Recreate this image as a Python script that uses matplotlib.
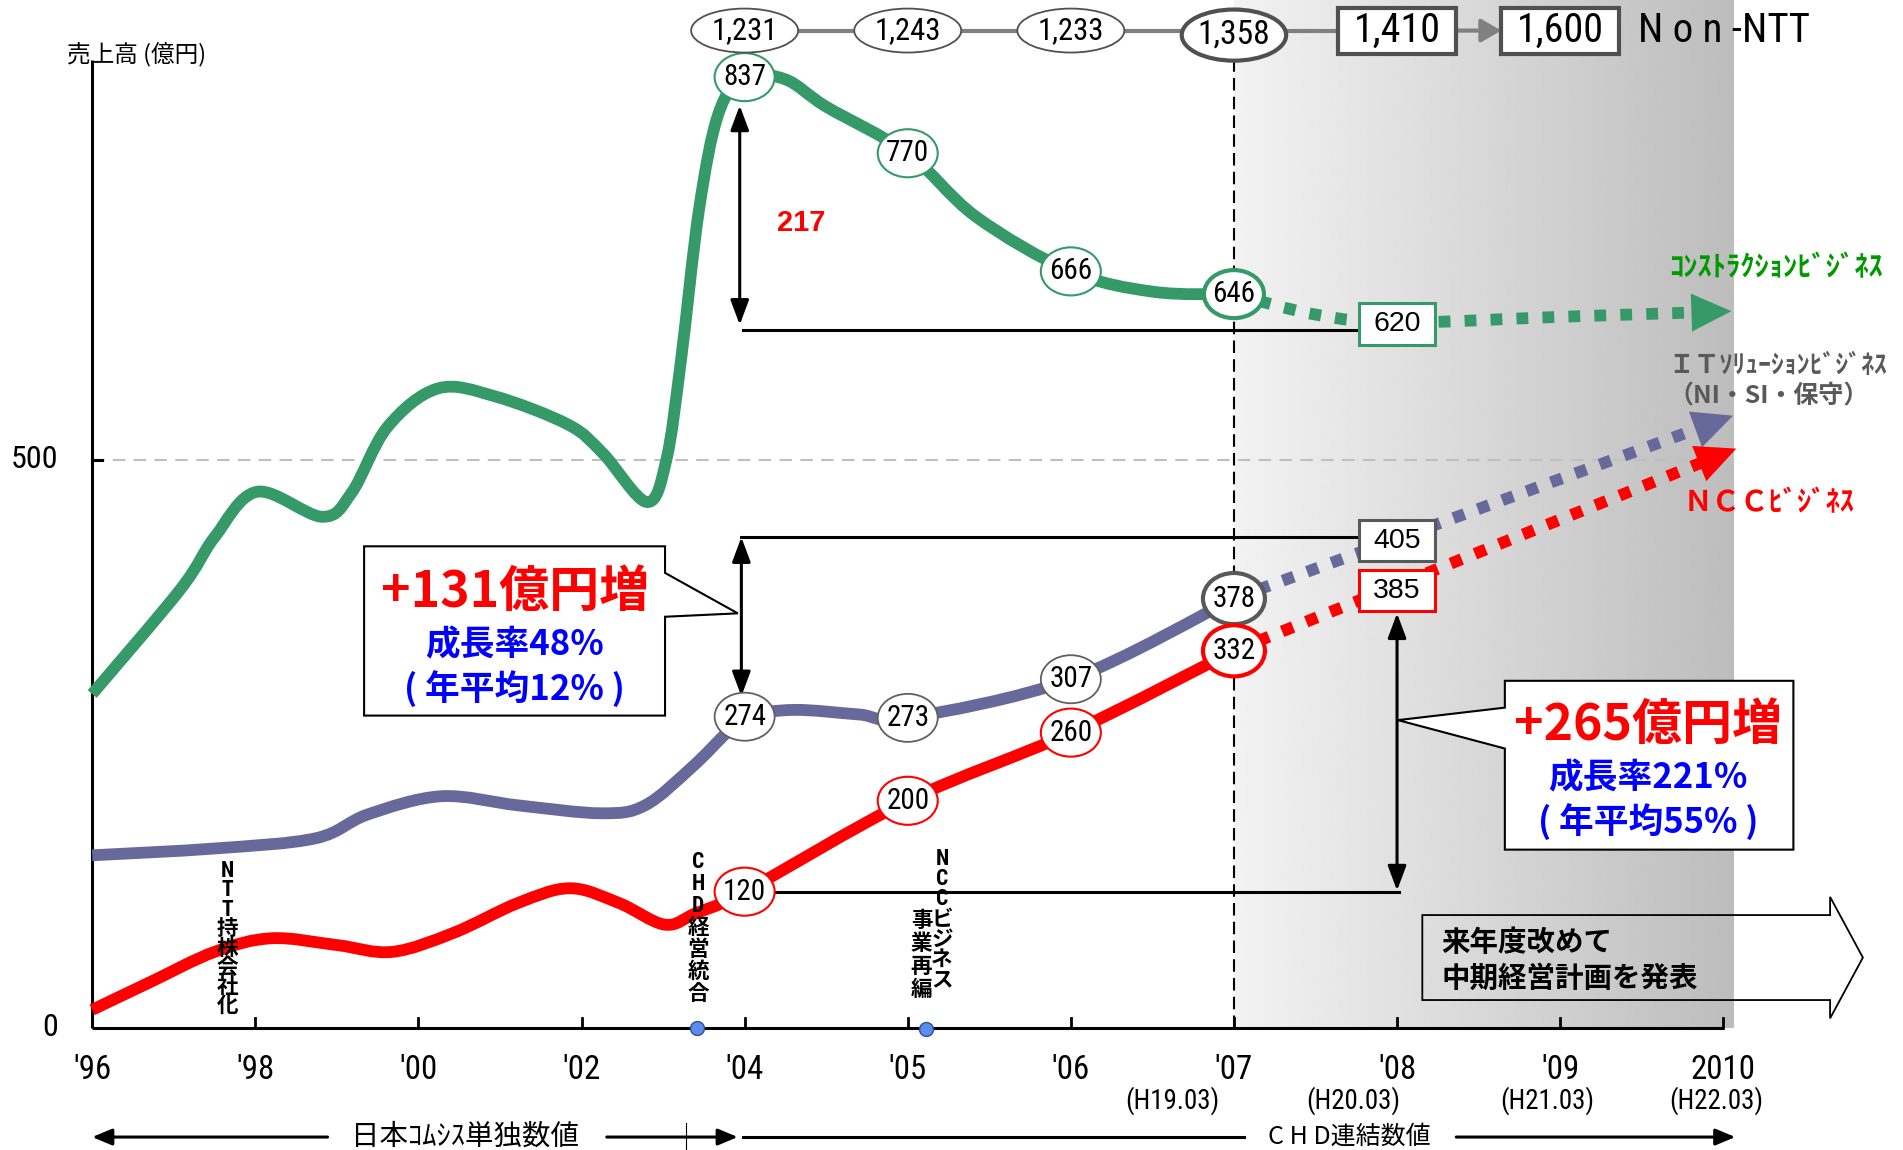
import numpy as np
import matplotlib
matplotlib.use('Agg')
import matplotlib.pyplot as plt
from matplotlib.path import Path
from matplotlib.patches import PathPatch, Ellipse, Rectangle, Polygon
from matplotlib import font_manager

JP = 'Noto Sans CJK JP'
_names = {f.name for f in font_manager.fontManager.ttflist}
NUM, K = 'Liberation Sans', 0.92
for cand in ['Liberation Sans Narrow', 'Roboto Condensed', 'Open Sans Condensed', 'DejaVu Sans Condensed']:
    if cand in _names:
        NUM, K = cand, 1.05
        break

# ---- data (x = position on the year axis, 0 = '96 ... 10 = 2010) ----
year_labels = ["'96", "'98", "'00", "'02", "'04", "'05", "'06", "'07", "'08", "'09", "2010"]
fiscal_labels = ['(H19.03)', '(H20.03)', '(H21.03)', '(H22.03)']
fiscal_pos = [6.62, 7.73, 8.92, 9.96]

# construction business (green)
cons_x = [0, 0.54, 0.75, 1.01, 1.41, 1.59, 1.81, 2.12, 2.47, 2.92, 3.13, 3.40, 3.52, 3.61, 3.72, 3.84,
          4, 4.25, 4.5, 5, 5.42, 6, 6.51, 7]
cons_y = [294, 386, 432, 472, 450, 471, 529, 563, 556, 531, 506, 463, 500, 588, 720, 805,
          837, 835, 811, 770, 714, 666, 648, 646]
# IT solution business (purple)
it_x = [0, 0.75, 1.37, 1.69, 2.14, 2.61, 3.12, 3.39, 3.68, 3.89, 4, 4.3, 4.7, 5, 6, 7]
it_y = [152, 158, 167, 188, 204, 196, 189, 196, 230, 260, 274, 280, 276, 273, 307, 378]
# NCC business (red)
ncc_x = [0, 0.35, 0.75, 1.10, 1.50, 1.84, 2.22, 2.61, 2.93, 3.23, 3.51, 3.70, 4, 5, 6, 7]
ncc_y = [16, 40, 67, 79, 73, 67, 84, 110, 123, 110, 91, 101, 120, 200, 260, 332]

lab_pos = [4, 5, 6, 7]
cons_lab = [837, 770, 666, 646]
it_lab = [274, 273, 307, 378]
ncc_lab = [120, 200, 260, 332]

# projections
cons_proj_x = [7, 7.5, 8, 9, 10.05]
cons_proj_y = [646, 628, 621, 626, 631]
it_proj_x = [7, 10.06]
it_proj_y = [378, 539]
ncc_proj_x = [7, 10.08]
ncc_proj_y = [332, 510]
plan08 = {'cons': 620, 'it': 405, 'ncc': 385}

# total sales row
total_pos = [4, 5, 6, 7]
total_val = [1231, 1243, 1233, 1358]
plan_pos = [8, 9]
plan_val = [1410, 1600]

GREEN = '#359A68'
PURPLE = '#66699A'
RED = '#FF0000'
GRAY = '#595959'

fig = plt.figure(figsize=(19.03, 11.5), dpi=100)
ax = fig.add_axes([0, 0, 1, 1])
ax.set_xlim(-0.5653, 11.102)
ax.set_ylim(-107.4, 904.9)
ax.axis('off')
PXI = 163.1   # pixels per x unit
PXV = 1.136   # pixels per value unit


def smooth_path(xs, ys):
    P = np.column_stack([xs, ys]).astype(float)
    n = len(P)
    verts = [P[0]]
    codes = [Path.MOVETO]
    for k in range(n - 1):
        p0 = P[max(k - 1, 0)]
        p1 = P[k]
        p2 = P[k + 1]
        p3 = P[min(k + 2, n - 1)]
        verts += [p1 + (p2 - p0) / 6, p2 - (p3 - p1) / 6, p2]
        codes += [Path.CURVE4] * 3
    return Path(verts, codes)


def head(tip, prev, color, length=40, half=19):
    t = ax.transData.transform(tip)
    b = ax.transData.transform(prev)
    d = (t - b) / np.hypot(*(t - b))
    n = np.array([-d[1], d[0]])
    base = t - d * length
    ax.add_patch(Polygon([t, base + n * half, base - n * half], closed=True,
                         transform=None, fc=color, ec='none', zorder=4))
    return ax.transData.inverted().transform(base + d * 2)


def circ(x, y, s, ec, lw=1.5, w=0.368, h=42.3, fs=20):
    ax.add_patch(Ellipse((x, y), w, h, fc='white', ec=ec, lw=lw, zorder=6))
    ax.text(x, y, s, ha='center', va='center', fontsize=fs * K, family=NUM, zorder=7)


def box(x, y, s, ec, w=0.47, h=37, fs=20, lw=2.2, family='Liberation Sans'):
    ax.add_patch(Rectangle((x - w / 2, y - h / 2), w, h, fc='white', ec=ec, lw=lw, zorder=6))
    ax.text(x, y, s, ha='center', va='center', fontsize=fs, family=family, zorder=7)


def vtext(x, top, s, pitch, fs=15.5):
    for k, ch in enumerate(s):
        if ch.isascii():
            ax.text(x, top - k * pitch, ch, ha='center', va='center', fontsize=fs,
                    family=NUM, weight='bold', zorder=5)
        else:
            ax.text(x, top - k * pitch, ch, ha='center', va='center', fontsize=fs,
                    family=JP, weight='bold', zorder=5)


# shaded forecast area
grad = np.linspace(0.95, 0.74, 256)[None, :]
ax.imshow(grad, cmap='gray', vmin=0, vmax=1, extent=(7, 10.06, 0, 904.9),
          aspect='auto', zorder=0, interpolation='bilinear')

# grid line at 500
ax.plot([0, 10.06], [500, 500], color='#BFBFBF', lw=1.5, ls=(0, (6, 4)), zorder=1)
# vertical dashed line at '07
ax.plot([7, 7], [0, 852], color='black', lw=1.5, ls=(0, (6, 3)), zorder=2)

# axes
ax.plot([0, 0], [0, 852], color='black', lw=2.2, zorder=3, solid_capstyle='butt')
ax.plot([0, 10], [0, 0], color='black', lw=2.2, zorder=3, solid_capstyle='butt')
for i in range(1, 11):
    ax.plot([i, i], [0, 10 / PXV], color='black', lw=2, zorder=3)
ax.plot([0, 10 / PXI], [500, 500], color='black', lw=2.2, zorder=3)
ax.text(-0.208, 500, '500', ha='right', va='center', fontsize=22 * K, family=NUM)
ax.text(-0.208, 0, '0', ha='right', va='center', fontsize=22 * K, family=NUM)
ax.text(-0.156, 856, '売上高 (億円)', ha='left', va='center', fontsize=17, family=JP)

for i, lab in enumerate(year_labels):
    ax.text(i, -37, lab, ha='center', va='center', fontsize=22.5 * K, family=NUM)
for p, lab in zip(fiscal_pos, fiscal_labels):
    ax.text(p, -64, lab, ha='center', va='center', fontsize=18.5 * K, family=NUM)

# main curves
for xs, ys, c in [(cons_x, cons_y, GREEN), (it_x, it_y, PURPLE), (ncc_x, ncc_y, RED)]:
    ax.add_patch(PathPatch(smooth_path(xs, ys), fill=False, ec=c, lw=8.5, zorder=3,
                           capstyle='butt', joinstyle='round'))

# dotted projections with heads
for xs, ys, c in [(cons_proj_x, cons_proj_y, GREEN), (it_proj_x, it_proj_y, PURPLE),
                  (ncc_proj_x, ncc_proj_y, RED)]:
    tip = (xs[-1], ys[-1])
    prev = (xs[-2], ys[-2]) if len(xs) == 2 else (xs[-1] - 0.3, ys[-1] - 1.5)
    base = head(tip, prev, c)
    px = list(xs[:-1]) + [base[0]]
    py = list(ys[:-1]) + [base[1]]
    if len(xs) > 2:
        ax.add_patch(PathPatch(smooth_path(px, py), fill=False, ec=c, lw=8.5, zorder=3,
                               capstyle='butt', ls=(0, (1, 1.2))))
    else:
        ax.plot(px, py, color=c, lw=8.5, ls=(0, (1, 1.2)), dash_capstyle='butt', zorder=3)

# measurement arrows and lines
aprops = dict(arrowstyle='<|-|>,head_length=0.75,head_width=0.28', mutation_scale=20,
              color='black', lw=2.2, shrinkA=0, shrinkB=0)
ax.annotate('', xy=(3.97, 812), xytext=(3.97, 619), arrowprops=aprops, zorder=4)
ax.plot([3.99, 7.76], [614, 614], color='black', lw=2.2, zorder=2)
ax.text(4.345, 709, '217', ha='center', va='center', fontsize=21, color=RED,
        weight='bold', family='Liberation Sans')
ax.annotate('', xy=(3.98, 432), xytext=(3.98, 292), arrowprops=aprops, zorder=4)
ax.plot([3.98, 7.77], [432, 432], color='black', lw=2.2, zorder=2)
ax.annotate('', xy=(8, 365), xytext=(8, 121), arrowprops=aprops, zorder=4)
ax.plot([4.18, 8.01], [120, 120], color='black', lw=2.2, zorder=2)

# labelled points
for p, v in zip(lab_pos, cons_lab):
    circ(p, v, str(v), GREEN, lw=3 if p == 7 else 1.5)
for p, v in zip(lab_pos, it_lab):
    circ(p, v, str(v), GRAY if p == 7 else '#606060', lw=3 if p == 7 else 1.3,
         w=0.38 if p == 7 else 0.368, h=45 if p == 7 else 42.3)
for p, v in zip(lab_pos, ncc_lab):
    circ(p, v, str(v), RED, lw=3 if p == 7 else 1.5,
         w=0.38 if p == 7 else 0.368, h=45 if p == 7 else 42.3)

box(8, plan08['cons'], str(plan08['cons']), GREEN, h=37, fs=20.5)
box(8, plan08['it'] + 24, str(plan08['it']), GRAY, h=36, fs=20.5)
box(8, plan08['ncc'], str(plan08['ncc']), RED, h=36, fs=20.5)

# total sales row
ROW = 878
ax.plot([4, 8], [ROW, ROW], color='#808080', lw=3, zorder=3)
for p, v in zip(total_pos, total_val):
    big = p == 7
    ax.add_patch(Ellipse((p, ROW - (4 if big else 0)), 0.64 if big else 0.656, 45 if big else 38.7,
                         fc='white', ec='#505050', lw=3 if big else 1.3, zorder=6))
    ax.text(p, ROW - (4 if big else 0), f'{v:,}', ha='center', va='center',
            fontsize=(23 if big else 21) * K, family=NUM, zorder=7)
for p, v in zip(plan_pos, plan_val):
    box(p, ROW, f'{v:,}', '#505050', w=0.723, h=40.5, fs=27.5 * K, lw=3, family=NUM)
ax.annotate('', xy=(9 - 0.3615, ROW), xytext=(8 + 0.3615, ROW),
            arrowprops=dict(arrowstyle='-|>,head_length=0.6,head_width=0.35', mutation_scale=20,
                            color='#808080', lw=3, shrinkA=0, shrinkB=0), zorder=3)
ax.text(9.48, ROW, 'N o n -NTT', ha='left', va='center', fontsize=28 * K, family=NUM)

# right side labels
ax.text(9.665, 669, 'ｺﾝｽﾄﾗｸｼｮﾝﾋﾞｼﾞﾈｽ', ha='left', va='center', fontsize=20.5, family=JP,
        weight='bold', color='#009900')
ax.text(9.665, 583, 'ＩＴｿﾘｭｰｼｮﾝﾋﾞｼﾞﾈｽ', ha='left', va='center', fontsize=18.5, family=JP,
        weight='bold', color=GRAY)
ax.text(9.665, 556, '（NI・SI・保守）', ha='left', va='center', fontsize=18, family=JP,
        weight='bold', color=GRAY)
ax.text(9.755, 462, 'ＮＣＣﾋﾞｼﾞﾈｽ', ha='left', va='center', fontsize=20.5, family=JP,
        weight='bold', color=RED)

# callouts
left_call = [(1.667, 424), (3.512, 424), (3.512, 400.6), (3.958, 365), (3.512, 362),
             (3.512, 275), (1.667, 275)]
ax.add_patch(Polygon(left_call, closed=True, fc='white', ec='black', lw=1.5, zorder=5))
ax.text(2.59, 383, '+131億円増', ha='center', va='center', fontsize=36, family=JP,
        weight='bold', color=RED, zorder=6)
ax.text(2.59, 337.5, '成長率48%', ha='center', va='center', fontsize=25, family=JP,
        weight='bold', color='#0000FF', zorder=6)
ax.text(2.59, 298, '( 年平均12% )', ha='center', va='center', fontsize=25, family=JP,
        weight='bold', color='#0000FF', zorder=6)

right_call = [(8.661, 305.6), (10.43, 305.6), (10.43, 157), (8.661, 157), (8.661, 246),
              (8.006, 271), (8.661, 282)]
ax.add_patch(Polygon(right_call, closed=True, fc='white', ec='black', lw=1.5, zorder=5))
ax.text(9.54, 266, '+265億円増', ha='center', va='center', fontsize=36, family=JP,
        weight='bold', color=RED, zorder=6)
ax.text(9.54, 220, '成長率221%', ha='center', va='center', fontsize=25, family=JP,
        weight='bold', color='#0000FF', zorder=6)
ax.text(9.54, 180.5, '( 年平均55% )', ha='center', va='center', fontsize=25, family=JP,
        weight='bold', color='#0000FF', zorder=6)

# block arrow note
blk = [(8.155, 99.4), (10.655, 99.4), (10.655, 115.4), (10.856, 62), (10.655, 8.5),
       (10.655, 24.6), (8.155, 24.6)]
ax.add_patch(Polygon(blk, closed=True, fill=False, ec='black', lw=1.3, zorder=4))
ax.text(8.274, 75, '来年度改めて', ha='left', va='center', fontsize=20.5, family=JP,
        weight='bold', zorder=5)
ax.text(8.274, 43, '中期経営計画を発表', ha='left', va='center', fontsize=20.5, family=JP,
        weight='bold', zorder=5)

# event labels
vtext(0.83, 138, 'NTT持株会社化', 16.9)
vtext(3.714, 146, 'CHD経営統合', 19.2)
vtext(5.21, 149, 'NCCビジネス', 17.8)
vtext(5.085, 95, '事業再編', 20.5)
ax.plot([3.705, 5.11], [0, -1], 'o', ms=10, mfc='#5B8DEF', mec='#2F4F8F', mew=1,
        zorder=8, clip_on=False)

# bottom span arrows
ROWB = -96
sp = dict(arrowstyle='-|>,head_length=0.6,head_width=0.25', mutation_scale=20,
          color='black', lw=2.2, shrinkA=0, shrinkB=0)
ax.annotate('', xy=(0, ROWB), xytext=(1.443, ROWB), arrowprops=sp)
ax.annotate('', xy=(3.958, ROWB), xytext=(3.155, ROWB), arrowprops=sp)
ax.plot([3.638, 3.638], [-84, -108], color='black', lw=0.8)
ax.text(2.284, ROWB, '日本ｺﾑｼｽ単独数値', ha='center', va='center', fontsize=20.5, family=JP)
ax.plot([3.988, 7.06], [ROWB, ROWB], color='black', lw=2.2)
ax.annotate('', xy=(10.074, ROWB), xytext=(8.363, ROWB), arrowprops=sp)
ax.text(7.708, ROWB, 'C H D連結数値', ha='center', va='center', fontsize=18, family=JP)

fig.savefig('out.png', dpi=100)
